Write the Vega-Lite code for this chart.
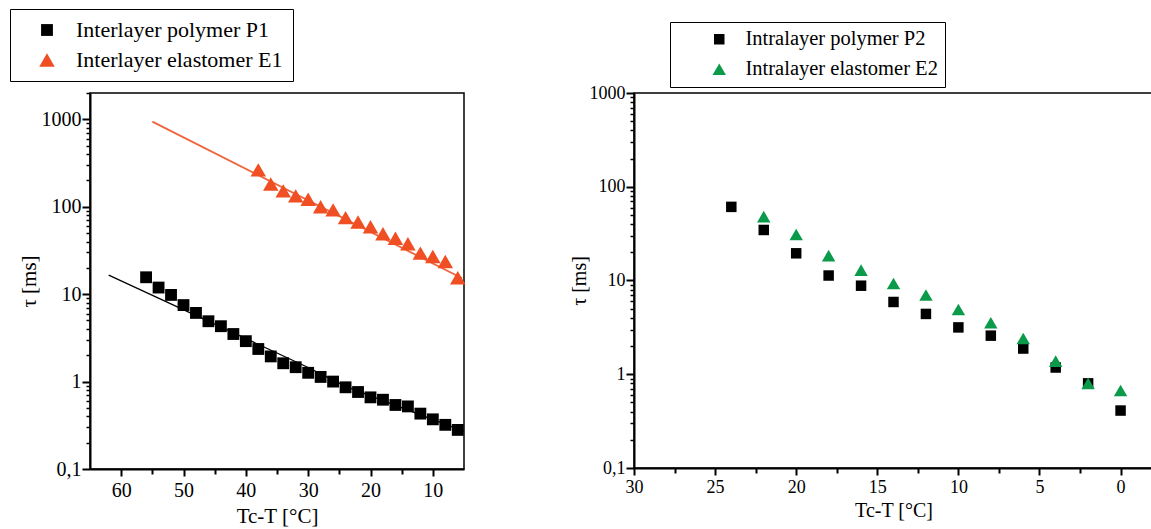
{
  "$schema": "https://vega.github.io/schema/vega-lite/v6.json",
  "padding": {"left": 8, "top": 7, "right": 0, "bottom": 0},
  "background": "white",
  "config": {
    "font": "Liberation Serif",
    "view": {"stroke": "black", "strokeWidth": 1.5},
    "axis": {
      "labelFont": "Liberation Serif", "titleFont": "Liberation Serif",
      "labelFontSize": 20, "titleFontSize": 21, "titleFontWeight": "normal",
      "labelColor": "black", "titleColor": "black", "domainColor": "black",
      "tickColor": "black", "domainWidth": 2, "tickWidth": 2, "grid": false,
      "labelPadding": 3, "labelFlush": false, "labelOverlap": false
    },
    "legend": {
      "orient": "none", "strokeColor": "black", "fillColor": "white",
      "labelFont": "Liberation Serif",
      "labelColor": "black", "symbolStrokeWidth": 0, "symbolSize": 150, "title": null,
      "labelLimit": 400
    }
  },
  "bounds": "flush",
  "spacing": 170,
  "resolve": {"scale": {"color": "independent", "shape": "independent", "size": "independent"}, "legend": {"color": "independent", "shape": "independent"}},
  "hconcat": [
    {
      "width": 374, "height": 376,
      "resolve": {"axis": {"x": "independent", "y": "independent"}},
      "layer": [
        {
          "data": {"values": [
            {"fit": "P1", "t": 62, "tau": 16.5},
            {"fit": "P1", "t": 30, "tau": 1.45},
            {"fit": "P1", "t": 24, "tau": 0.88},
            {"fit": "P1", "t": 5, "tau": 0.27}
          ]},
          "mark": {"type": "line", "color": "black", "strokeWidth": 1.3},
          "encoding": {
            "x": {"field": "t", "type": "quantitative", "scale": {"domain": [5, 65], "reverse": true, "nice": false, "zero": false},
              "axis": {"orient": "bottom", "values": [55, 45, 35, 25, 15], "labels": false, "domain": false, "tickSize": 5, "title": null}},
            "y": {"field": "tau", "type": "quantitative", "scale": {"type": "log", "domain": [0.1, 2000], "nice": false},
              "axis": {"orient": "left", "values": [0.2,0.3,0.4,0.5,0.6,0.7,0.8,0.9,2,3,4,5,6,7,8,9,20,30,40,50,60,70,80,90,200,300,400,500,600,700,800,900,2000], "labels": false, "domain": false, "tickSize": 4, "tickWidth": 1.5, "title": null}}
          }
        },
        {
          "data": {"values": [
            {"fit": "E1", "t": 55, "tau": 940},
            {"fit": "E1", "t": 5.3, "tau": 15.2}
          ]},
          "mark": {"type": "line", "color": "#f0643c", "strokeWidth": 1.8},
          "encoding": {
            "x": {"field": "t", "type": "quantitative", "axis": null},
            "y": {"field": "tau", "type": "quantitative", "axis": null}
          }
        },
        {
          "data": {"values": [
            {"series": "Interlayer polymer P1", "t": 56, "tau": 15.6},
            {"series": "Interlayer polymer P1", "t": 54, "tau": 11.9},
            {"series": "Interlayer polymer P1", "t": 52, "tau": 9.8},
            {"series": "Interlayer polymer P1", "t": 50, "tau": 7.5},
            {"series": "Interlayer polymer P1", "t": 48, "tau": 6.1},
            {"series": "Interlayer polymer P1", "t": 46, "tau": 4.9},
            {"series": "Interlayer polymer P1", "t": 44, "tau": 4.3},
            {"series": "Interlayer polymer P1", "t": 42, "tau": 3.5},
            {"series": "Interlayer polymer P1", "t": 40, "tau": 2.9},
            {"series": "Interlayer polymer P1", "t": 38, "tau": 2.36},
            {"series": "Interlayer polymer P1", "t": 36, "tau": 1.94},
            {"series": "Interlayer polymer P1", "t": 34, "tau": 1.62},
            {"series": "Interlayer polymer P1", "t": 32, "tau": 1.46},
            {"series": "Interlayer polymer P1", "t": 30, "tau": 1.26},
            {"series": "Interlayer polymer P1", "t": 28, "tau": 1.13},
            {"series": "Interlayer polymer P1", "t": 26, "tau": 1.0},
            {"series": "Interlayer polymer P1", "t": 24, "tau": 0.86},
            {"series": "Interlayer polymer P1", "t": 22, "tau": 0.76},
            {"series": "Interlayer polymer P1", "t": 20, "tau": 0.66},
            {"series": "Interlayer polymer P1", "t": 18, "tau": 0.62},
            {"series": "Interlayer polymer P1", "t": 16, "tau": 0.54},
            {"series": "Interlayer polymer P1", "t": 14, "tau": 0.52},
            {"series": "Interlayer polymer P1", "t": 12, "tau": 0.43},
            {"series": "Interlayer polymer P1", "t": 10, "tau": 0.37},
            {"series": "Interlayer polymer P1", "t": 8, "tau": 0.32},
            {"series": "Interlayer polymer P1", "t": 6, "tau": 0.28},
            {"series": "Interlayer elastomer E1", "t": 38, "tau": 264},
            {"series": "Interlayer elastomer E1", "t": 36, "tau": 182},
            {"series": "Interlayer elastomer E1", "t": 34, "tau": 152},
            {"series": "Interlayer elastomer E1", "t": 32, "tau": 133},
            {"series": "Interlayer elastomer E1", "t": 30, "tau": 122},
            {"series": "Interlayer elastomer E1", "t": 28, "tau": 100},
            {"series": "Interlayer elastomer E1", "t": 26, "tau": 92},
            {"series": "Interlayer elastomer E1", "t": 24, "tau": 75},
            {"series": "Interlayer elastomer E1", "t": 22, "tau": 67},
            {"series": "Interlayer elastomer E1", "t": 20, "tau": 59},
            {"series": "Interlayer elastomer E1", "t": 18, "tau": 49},
            {"series": "Interlayer elastomer E1", "t": 16, "tau": 43.6},
            {"series": "Interlayer elastomer E1", "t": 14, "tau": 37.8},
            {"series": "Interlayer elastomer E1", "t": 12, "tau": 29.5},
            {"series": "Interlayer elastomer E1", "t": 10, "tau": 27},
            {"series": "Interlayer elastomer E1", "t": 8, "tau": 23.6},
            {"series": "Interlayer elastomer E1", "t": 6, "tau": 15.4}
          ]},
          "mark": {"type": "point", "filled": true, "opacity": 1},
          "encoding": {
            "x": {"field": "t", "type": "quantitative",
              "axis": {"orient": "bottom", "values": [60, 50, 40, 30, 20, 10], "tickSize": 7, "labelPadding": 4, "title": "Tc-T [°C]", "titlePadding": 5}},
            "y": {"field": "tau", "type": "quantitative",
              "axis": {"orient": "left", "values": [0.1, 1, 10, 100, 1000], "tickSize": 8, "labelPadding": 1, "labelExpr": "datum.value < 1 ? '0,1' : format(datum.value, 'd')", "title": "τ [ms]", "titlePadding": 2}},
            "color": {"field": "series", "type": "nominal",
              "scale": {"domain": ["Interlayer polymer P1", "Interlayer elastomer E1"], "range": ["black", "#f04e23"]},
              "legend": {"legendX": -80, "legendY": -84, "labelFontSize": 22, "padding": 10, "rowPadding": 8, "symbolOffset": 16, "labelOffset": 18}},
            "shape": {"field": "series", "type": "nominal",
              "scale": {"domain": ["Interlayer polymer P1", "Interlayer elastomer E1"], "range": ["square", "triangle-up"]}},
            "size": {"field": "series", "type": "nominal",
              "scale": {"domain": ["Interlayer polymer P1", "Interlayer elastomer E1"], "range": [140, 240]}, "legend": null}
          }
        }
      ]
    },
    {
      "width": 519, "height": 375,
      "resolve": {"axis": {"x": "independent", "y": "independent"}},
      "data": {"values": [
        {"series": "Intralayer polymer P2", "t": 24, "tau": 61},
        {"series": "Intralayer polymer P2", "t": 22, "tau": 34.6},
        {"series": "Intralayer polymer P2", "t": 20, "tau": 19.5},
        {"series": "Intralayer polymer P2", "t": 18, "tau": 11.3},
        {"series": "Intralayer polymer P2", "t": 16, "tau": 8.8},
        {"series": "Intralayer polymer P2", "t": 14, "tau": 5.9},
        {"series": "Intralayer polymer P2", "t": 12, "tau": 4.4},
        {"series": "Intralayer polymer P2", "t": 10, "tau": 3.16},
        {"series": "Intralayer polymer P2", "t": 8, "tau": 2.58},
        {"series": "Intralayer polymer P2", "t": 6, "tau": 1.88},
        {"series": "Intralayer polymer P2", "t": 4, "tau": 1.18},
        {"series": "Intralayer polymer P2", "t": 2, "tau": 0.80},
        {"series": "Intralayer polymer P2", "t": 0, "tau": 0.41},
        {"series": "Intralayer elastomer E2", "t": 22, "tau": 48},
        {"series": "Intralayer elastomer E2", "t": 20, "tau": 31},
        {"series": "Intralayer elastomer E2", "t": 18, "tau": 18.4},
        {"series": "Intralayer elastomer E2", "t": 16, "tau": 12.9},
        {"series": "Intralayer elastomer E2", "t": 14, "tau": 9.3},
        {"series": "Intralayer elastomer E2", "t": 12, "tau": 7.0},
        {"series": "Intralayer elastomer E2", "t": 10, "tau": 4.9},
        {"series": "Intralayer elastomer E2", "t": 8, "tau": 3.54},
        {"series": "Intralayer elastomer E2", "t": 6, "tau": 2.41},
        {"series": "Intralayer elastomer E2", "t": 4, "tau": 1.38},
        {"series": "Intralayer elastomer E2", "t": 2, "tau": 0.80},
        {"series": "Intralayer elastomer E2", "t": 0, "tau": 0.67}
      ]},
      "layer": [
        {
          "mark": {"type": "point", "opacity": 0},
          "encoding": {
            "x": {"field": "t", "type": "quantitative", "scale": {"domain": [-2, 30], "reverse": true, "nice": false, "zero": false},
              "axis": {"orient": "bottom", "values": [27.5, 22.5, 17.5, 12.5, 7.5, 2.5], "labels": false, "domain": false, "tickSize": 5, "title": null}},
            "y": {"field": "tau", "type": "quantitative", "scale": {"type": "log", "domain": [0.1, 1000], "nice": false},
              "axis": {"orient": "left", "values": [0.2,0.3,0.4,0.5,0.6,0.7,0.8,0.9,2,3,4,5,6,7,8,9,20,30,40,50,60,70,80,90,200,300,400,500,600,700,800,900], "labels": false, "domain": false, "tickSize": 4, "tickWidth": 1.5, "title": null}}
          }
        },
        {
          "mark": {"type": "point", "filled": true, "opacity": 1},
          "encoding": {
            "x": {"field": "t", "type": "quantitative",
              "axis": {"orient": "bottom", "values": [30, 25, 20, 15, 10, 5, 0], "tickSize": 7, "labelPadding": 3, "labelFontSize": 18, "title": "Tc-T [°C]", "titleFontSize": 20, "titlePadding": 4}},
            "y": {"field": "tau", "type": "quantitative",
              "axis": {"orient": "left", "values": [0.1, 1, 10, 100, 1000], "tickSize": 8, "labelPadding": 1, "labelFontSize": 18, "labelExpr": "datum.value < 1 ? '0,1' : format(datum.value, 'd')", "title": "τ [ms]", "titleFontSize": 20, "titlePadding": 0}},
            "color": {"field": "series", "type": "nominal",
              "scale": {"domain": ["Intralayer polymer P2", "Intralayer elastomer E2"], "range": ["black", "#0a9a4a"]},
              "legend": {"legendX": 36, "legendY": -71, "labelFontSize": 20.5, "padding": 7, "rowPadding": 9, "symbolOffset": 32, "labelOffset": 16}},
            "shape": {"field": "series", "type": "nominal",
              "scale": {"domain": ["Intralayer polymer P2", "Intralayer elastomer E2"], "range": ["square", "triangle-up"]}},
            "size": {"field": "series", "type": "nominal",
              "scale": {"domain": ["Intralayer polymer P2", "Intralayer elastomer E2"], "range": [110, 180]}, "legend": null}
          }
        }
      ]
    }
  ]
}
